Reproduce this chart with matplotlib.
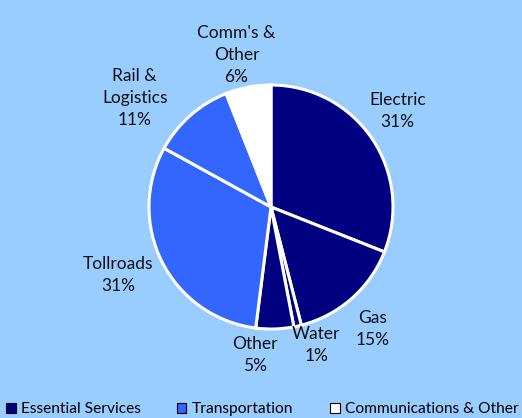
import numpy as np
import matplotlib.pyplot as plt
from matplotlib.patches import Patch

plt.rcParams['font.family'] = ['Lato', 'DejaVu Sans']

# Segmentos (en %)
etiquetas = ["Electric", "Gas", "Water", "Other", "Tollroads", "Rail &\nLogistics", "Comm's &\nOther"]
valores = [31, 15, 1, 5, 31, 11, 6]
grupos = ["Essential Services", "Essential Services", "Essential Services", "Essential Services",
          "Transportation", "Transportation", "Communications & Other"]
leyenda = ["Essential Services", "Transportation", "Communications & Other"]

colores_grupo = {"Essential Services": "#000080", "Transportation": "#3366FF",
                 "Communications & Other": "#FFFFFF"}
fondo = "#99CCFF"

# distancia / giro de cada etiqueta (estilo)
dist = [1.30, 1.30, 1.19, 1.22, 1.37, 1.43, 1.28]
giro = [3, -1.5, 5.5, -8, -3, 10, 2]

fig = plt.figure(figsize=(5.22, 4.18), dpi=100, facecolor=fondo)
ax = fig.add_axes([271/522 - 122/522, 1 - (207 + 122)/418, 244/522, 244/418])
ax.set_facecolor(fondo)

wedges, _ = ax.pie(valores, colors=[colores_grupo[g] for g in grupos], startangle=90,
                   counterclock=False, radius=1,
                   wedgeprops=dict(edgecolor="white", linewidth=2.2))
ax.set_xlim(-1, 1)
ax.set_ylim(-1, 1)
ax.set_aspect('equal')

for w, lab, v, d, g in zip(wedges, etiquetas, valores, dist, giro):
    ang = np.deg2rad((w.theta1 + w.theta2) / 2 + g)
    ax.text(d * np.cos(ang), d * np.sin(ang), f"{lab}\n{v}%", ha="center", va="center",
            fontsize=12.5, color="#111111", linespacing=1.45, clip_on=False)

# leyenda: una entrada por grupo, repartidas a lo ancho
x_leyenda = [0.012, 0.339, 0.633]
for n, x0 in zip(leyenda, x_leyenda):
    h = Patch(facecolor=colores_grupo[n], edgecolor="black", linewidth=0.8)
    fig.legend([h], [n], loc="lower left", bbox_to_anchor=(x0, 0.004),
               frameon=False, fontsize=11.2, handlelength=0.6, handleheight=0.6,
               handletextpad=0.35, borderaxespad=0, borderpad=0)

fig.savefig("out.png", dpi=100, facecolor=fondo)
